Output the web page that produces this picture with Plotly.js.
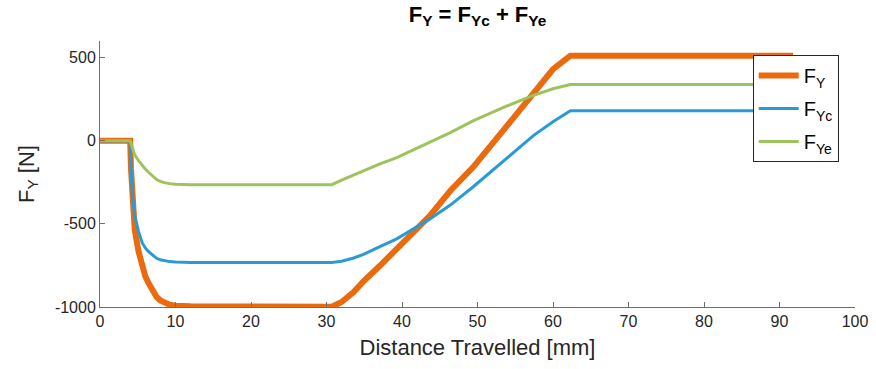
<!DOCTYPE html>
<html>
<head>
<meta charset="utf-8">
<script src="https://cdn.plot.ly/plotly-3.0.1.min.js"></script>
<style>html,body{margin:0;padding:0;background:#fff;}#chart{width:876px;height:369px;}</style>
</head>
<body>
<div id="chart"></div>
<script>
// Distance travelled [mm]
const distance = [0, 4, 4.1, 4.3, 4.6, 5.1, 5.6, 6.0, 6.4, 7.0, 7.5, 8.0, 8.5, 9.2, 10, 12,
                  30.7, 32.0, 33.6, 34.9, 37.0, 39.3, 43.7, 46.4, 49.4, 53.9, 57.4, 60.0, 62.3, 91.8];
// Forces [N]
const FY  = [0, 0, -165, -380, -535, -665, -765, -815, -854, -903, -940, -960, -974, -986, -992, -996,
             -998, -970, -910, -845, -755, -650, -451, -301, -160, 89, 289, 430, 512, 512];
const FYc = [0, 0, -150, -330, -450, -545, -615, -645, -666, -690, -707, -716, -722, -727, -730, -732,
             -732, -725, -705, -683, -638, -590, -471, -387, -278, -102, 31, 114, 180, 180];
const FYe = [0, 0, -15, -50, -85, -120, -150, -170, -188, -213, -233, -244, -252, -258, -262, -264,
             -264, -237, -205, -181, -141, -101, -11, 49, 119, 209, 273, 313, 338, 338];
const seriesNames = ["F<sub>Y</sub>", "F<sub>Yc</sub>", "F<sub>Ye</sub>"];
const xTicks = [0, 10, 20, 30, 40, 50, 60, 70, 80, 90, 100];
const yTicks = [-1000, -500, 0, 500];

const font = "Liberation Sans, Arial, Helvetica, sans-serif";
const traces = [
  {x: distance, y: FY,  name: seriesNames[0], legendgroup: "a", mode: "lines", line: {color: "#EC6A0E", width: 6}},
  {x: distance, y: FYc, name: seriesNames[1], legendgroup: "b", mode: "lines", line: {color: "#2A9AD7", width: 3}},
  {x: distance, y: FYe, name: seriesNames[2], legendgroup: "c", mode: "lines", line: {color: "#9DC35C", width: 3}}
];
const axisCommon = {
  showline: true, linecolor: "#6e6e6e", linewidth: 1, mirror: false,
  showgrid: false, zeroline: false, ticks: "inside", ticklen: 5, tickcolor: "#6e6e6e",
  tickfont: {family: font, size: 16, color: "#262626"}
};
const layout = {
  width: 876, height: 369,
  margin: {l: 100, r: 21, t: 41, b: 62},
  paper_bgcolor: "#fff", plot_bgcolor: "#fff",
  showlegend: true,
  title: {text: "<b>F<sub>Y</sub> = F<sub>Yc</sub> + F<sub>Ye</sub></b>", font: {family: font, size: 22, color: "#000"},
          x: 0.5, xref: "paper", xanchor: "center", y: 0.962, yref: "container", yanchor: "middle"},
  xaxis: Object.assign({}, axisCommon, {
    range: [0, 100], tickvals: xTicks, ticktext: xTicks.map(String),
    title: {text: "Distance Travelled [mm]", font: {family: font, size: 22, color: "#262626"}, standoff: 10}
  }),
  yaxis: Object.assign({}, axisCommon, {
    range: [-1000, 600], tickvals: yTicks, ticktext: yTicks.map(String),
    title: {text: "F<sub>Y</sub> [N]", font: {family: font, size: 22, color: "#262626"}, standoff: 14}
  }),
  legend: {
    x: 0.8645, y: 0.947, xanchor: "left", yanchor: "top",
    bgcolor: "#fff", bordercolor: "#262626", borderwidth: 1,
    font: {family: font, size: 20, color: "#000"},
    tracegroupgap: 4, itemwidth: 40
  }
};
Plotly.newPlot("chart", traces, layout, {displayModeBar: false, staticPlot: true});
</script>
</body>
</html>
